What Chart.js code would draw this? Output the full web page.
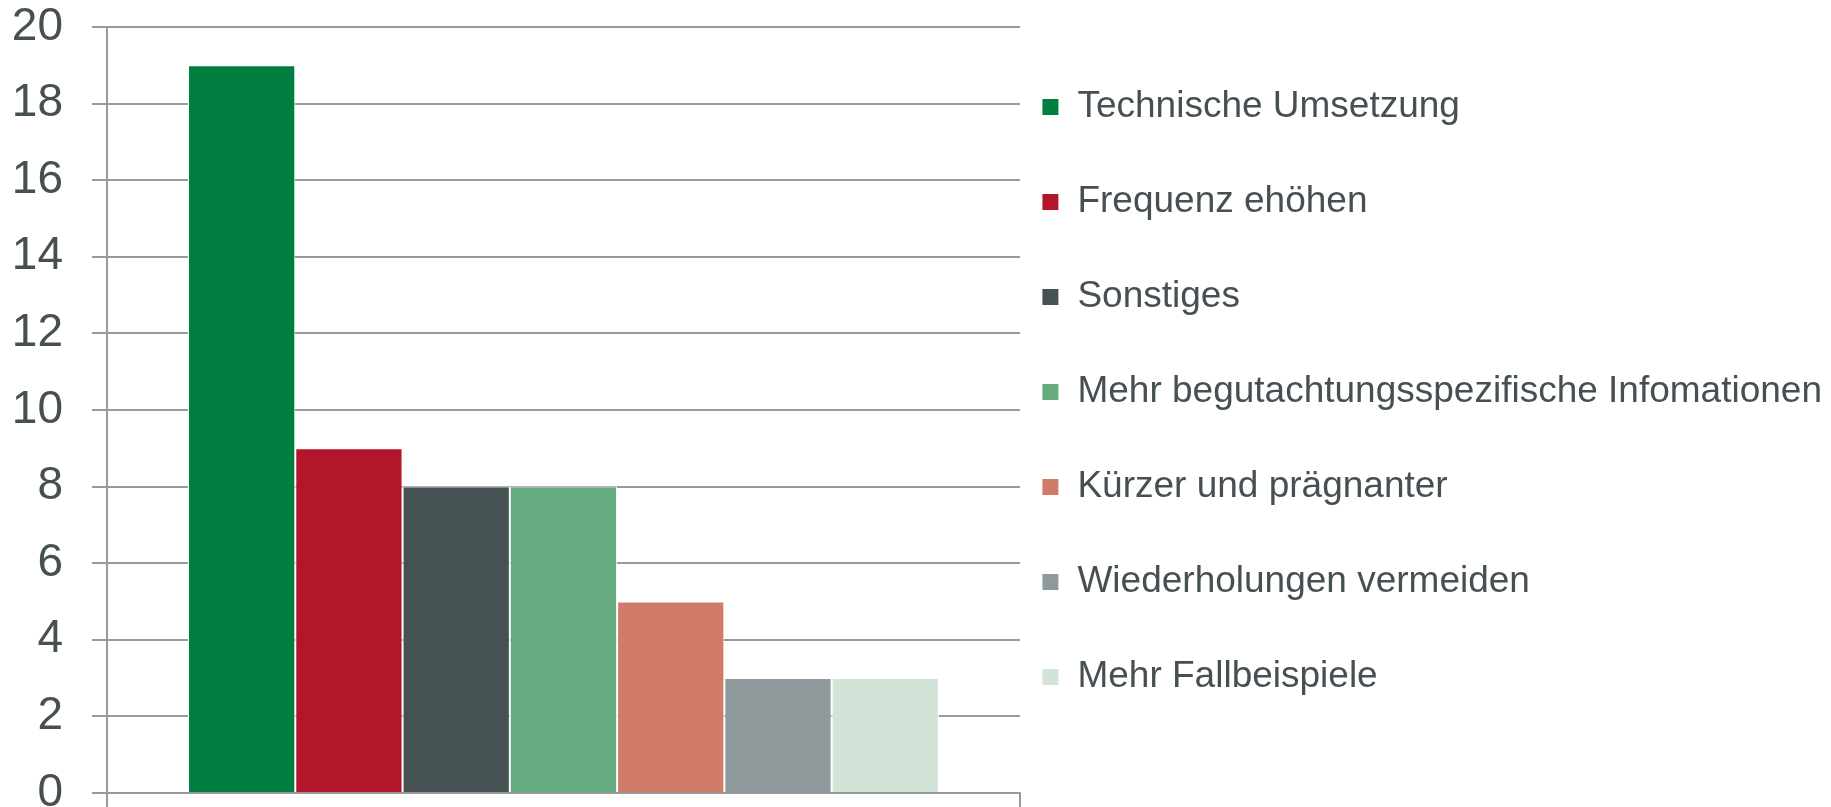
<!DOCTYPE html>
<html>
<head>
<meta charset="utf-8">
<script src="https://cdn.jsdelivr.net/npm/chart.js@4/dist/chart.umd.min.js"></script>
<style>
  html, body { margin: 0; padding: 0; background: #fff; overflow: hidden; }
  #wrap { position: relative; width: 1831px; height: 807px; }
</style>
</head>
<body>
<div id="wrap"><canvas id="chart"></canvas></div>
<script>
// answers (one bar per series, single group)
var seriesNames = [
  "Technische Umsetzung",
  "Frequenz ehöhen",
  "Sonstiges",
  "Mehr begutachtungsspezifische Infomationen",
  "Kürzer und prägnanter",
  "Wiederholungen vermeiden",
  "Mehr Fallbeispiele"
];
var seriesValues = [19, 9, 8, 8, 5, 3, 3];
var seriesColors = ["#007e40", "#b3152b", "#465153", "#66ab80", "#d17c6b", "#8f999b", "#d2e4d8"];
var groupLabels = [""];
var yTicks = [0, 2, 4, 6, 8, 10, 12, 14, 16, 18, 20];

var textColor = "#465053";
var gridColor = "#9a9a9a";
var fontFamily = "'Liberation Sans', Arial, sans-serif";

var datasets = seriesNames.map(function (name, i) {
  return {
    label: [name],
    data: [seriesValues[i]],
    backgroundColor: seriesColors[i],
    borderColor: "#ffffff",
    borderWidth: 1,
    categoryPercentage: 0.8225,
    barPercentage: 1
  };
});

new Chart(document.getElementById("chart"), {
  type: "bar",
  data: { labels: groupLabels, datasets: datasets },
  options: {
    responsive: true,
    maintainAspectRatio: false,
    animation: false,
    layout: { padding: { top: 27, left: 0, right: -1, bottom: 0 } },
    plugins: {
      tooltip: { enabled: false },
      legend: {
        position: "right",
        fullSize: false,
        align: "center",
        maxWidth: 830,
        labels: {
          boxWidth: 17,
          boxHeight: 17,
          padding: 22,
          color: textColor,
          font: { family: fontFamily, size: 37, lineHeight: "73px" }
        }
      }
    },
    scales: {
      x: {
        offset: true,
        grid: {
          drawOnChartArea: false,
          drawTicks: true,
          tickLength: 16,
          color: gridColor,
          lineWidth: 2
        },
        border: { display: true, color: gridColor, width: 2 },
        ticks: { display: false },
        afterFit: function (scale) {
          scale.height = 14;
          scale.paddingLeft = 0;
          scale.paddingRight = 0;
        }
      },
      y: {
        min: 0,
        max: 20,
        afterBuildTicks: function (scale) {
          scale.ticks = yTicks.map(function (v) { return { value: v }; });
        },
        grid: {
          color: gridColor,
          lineWidth: 2,
          drawTicks: true,
          tickLength: 15
        },
        border: { display: true, color: gridColor, width: 2 },
        ticks: {
          color: textColor,
          padding: 29,
          font: { family: fontFamily, size: 46 }
        },
        afterFit: function (scale) {
          scale.width = 107;
          scale.paddingTop = 0;
          scale.paddingBottom = 0;
        }
      }
    }
  }
});
</script>
</body>
</html>
